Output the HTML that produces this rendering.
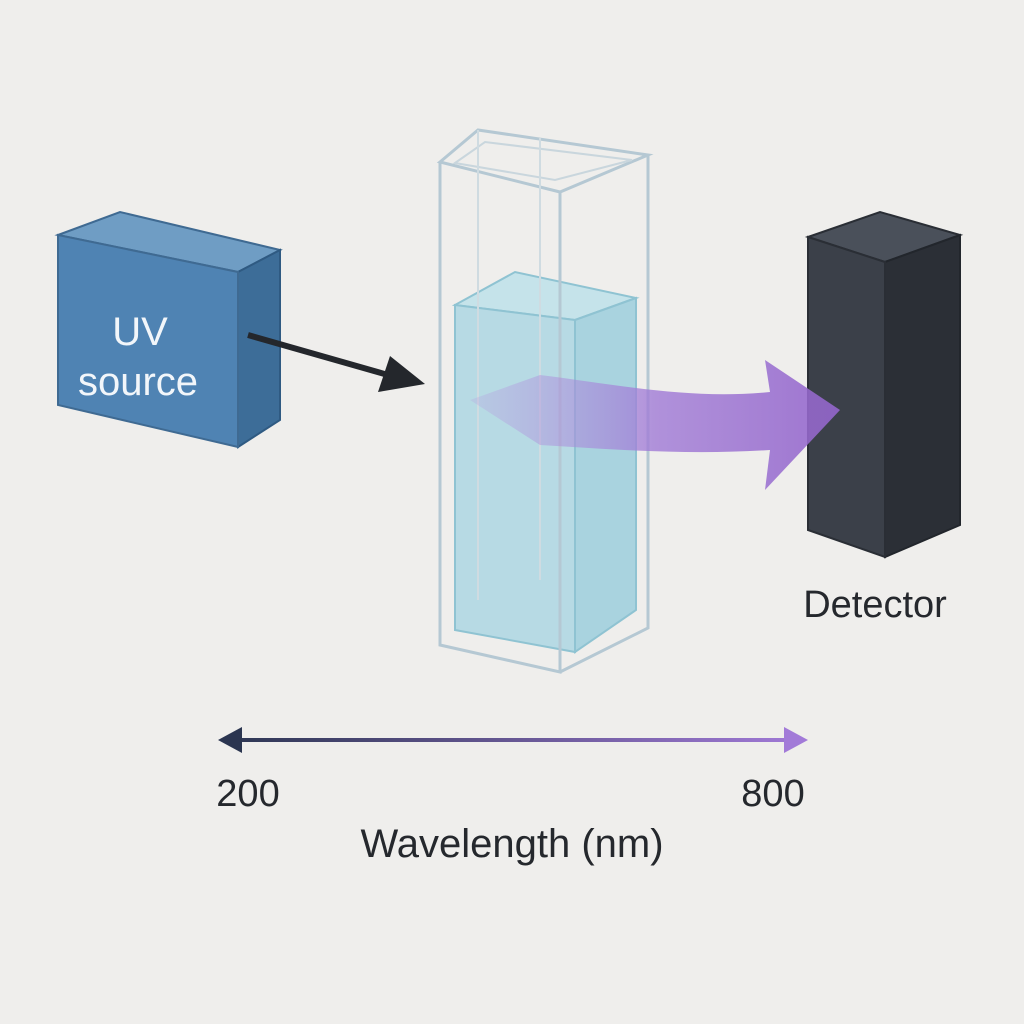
<!DOCTYPE html>
<html><head><meta charset="utf-8"><style>
html,body{margin:0;padding:0;background:#efeeec;}
svg{display:block;font-family:"Liberation Sans","DejaVu Sans",sans-serif;}
</style></head><body>
<svg width="1024" height="1024" viewBox="0 0 1024 1024">
<defs>
<linearGradient id="beam" gradientUnits="userSpaceOnUse" x1="470" x2="840" y1="0" y2="0">
<stop offset="0" stop-color="#b79be0" stop-opacity="0.25"/>
<stop offset="0.5" stop-color="#a07ad6" stop-opacity="0.8"/>
<stop offset="1" stop-color="#9466cc" stop-opacity="0.9"/>
</linearGradient>
<linearGradient id="axisg" gradientUnits="userSpaceOnUse" x1="218" x2="808" y1="0" y2="0">
<stop offset="0" stop-color="#2b3550"/>
<stop offset="1" stop-color="#a27ad8"/>
</linearGradient>
</defs>
<rect width="1024" height="1024" fill="#efeeec"/>

<g>
<polygon points="58,235 120,212 280,250 238,272" fill="#6f9dc4" stroke="#3f6a92" stroke-width="2"/>
<polygon points="238,272 280,250 280,420 238,447" fill="#3d6d98" stroke="#2f5a82" stroke-width="2"/>
<polygon points="58,235 238,272 238,447 58,405" fill="#4f83b3" stroke="#3f6a92" stroke-width="2"/>
<text x="140" y="345" font-size="40" fill="#f2f6fa" text-anchor="middle">UV</text>
<text x="138" y="395" font-size="40" fill="#f2f6fa" text-anchor="middle">source</text>
</g>

<g>
<line x1="248" y1="335" x2="395" y2="377" stroke="#24272c" stroke-width="6"/>
<polygon points="378,392 390,356 425,384" fill="#24272c"/>
</g>

<g>
<polygon points="455,305 515,272 636,298 575,320" fill="#c5e3ea" stroke="#8fc3d2" stroke-width="2"/>
<polygon points="455,305 575,320 575,652 455,630" fill="#b7dae4" stroke="#8fc3d2" stroke-width="2"/>
<polygon points="575,320 636,298 636,610 575,652" fill="#a9d3df" stroke="#8fc3d2" stroke-width="2"/>
<polygon points="440,162 478,130 648,155 560,192" fill="none" stroke="#b5c8d3" stroke-width="3"/>
<polygon points="455,163 485,142 632,160 555,180" fill="none" stroke="#c9d6dd" stroke-width="2"/>
<polyline points="440,162 440,645 560,672 560,192" fill="none" stroke="#b5c8d3" stroke-width="3"/>
<polyline points="560,672 648,628 648,155" fill="none" stroke="#b5c8d3" stroke-width="3"/>
<line x1="478" y1="130" x2="478" y2="600" stroke="#cfdbe1" stroke-width="2"/>
<line x1="540" y1="138" x2="540" y2="580" stroke="#cfdbe1" stroke-width="2"/>
</g>

<g>
<polygon points="808,237 880,212 960,235 885,262" fill="#4a505a" stroke="#2a2e35" stroke-width="2"/>
<polygon points="885,262 960,235 960,525 885,557" fill="#2b2f36" stroke="#22262c" stroke-width="2"/>
<polygon points="808,237 885,262 885,557 808,530" fill="#3b4049" stroke="#2a2e35" stroke-width="2"/>
<text x="875" y="617" font-size="38" fill="#25282d" text-anchor="middle">Detector</text>
</g>

<path d="M470,400 L540,375 C620,385 690,400 770,392 L765,360 L840,410 L765,490 L770,450 C690,455 620,450 540,445 Z" fill="url(#beam)"/>

<g>
<rect x="235" y="738" width="555" height="4" fill="url(#axisg)"/>
<polygon points="218,740 242,727 242,753" fill="#2b3550"/>
<polygon points="808,740 784,727 784,753" fill="#a27ad8"/>
<text x="248" y="806" font-size="38" fill="#25282d" text-anchor="middle">200</text>
<text x="773" y="806" font-size="38" fill="#25282d" text-anchor="middle">800</text>
<text x="512" y="857" font-size="40" fill="#25282d" text-anchor="middle">Wavelength (nm)</text>
</g>
</svg>
</body></html>
